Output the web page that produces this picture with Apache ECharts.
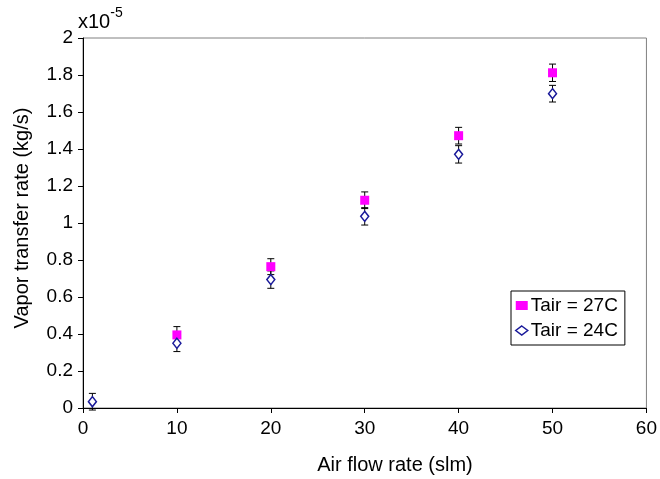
<!DOCTYPE html>
<html>
<head>
<meta charset="utf-8">
<script src="https://cdn.jsdelivr.net/npm/echarts@6/dist/echarts.min.js"></script>
<style>html,body{margin:0;padding:0;background:#fff}#c{width:660px;height:479px}</style>
</head>
<body>
<div id="c"></div>
<script>
// values in units of 1e-5 kg/s
var flow27 = [10, 20, 30, 40, 50];
var rate27 = [0.395, 0.764, 1.123, 1.472, 1.812];
var err27 = [0.045, 0.043, 0.045, 0.045, 0.047];
var flow24 = [1, 10, 20, 30, 40, 50];
var rate24 = [0.034, 0.35, 0.694, 1.036, 1.371, 1.699];
var err24 = [0.045, 0.045, 0.047, 0.047, 0.047, 0.045];
var xTicks = [0, 10, 20, 30, 40, 50, 60];
var yTicks = [0, 0.2, 0.4, 0.6, 0.8, 1, 1.2, 1.4, 1.6, 1.8, 2];

var FONT = 'Liberation Sans, Arial, sans-serif';
function pts(xs, ys) { return xs.map(function (x, i) { return [x, ys[i]]; }); }
function errs(xs, ys, es) { return xs.map(function (x, i) { return [x, ys[i] - es[i], ys[i] + es[i]]; }); }
function errRender(params, api) {
  var x = api.value(0);
  var lo = api.coord([x, api.value(1)]);
  var hi = api.coord([x, api.value(2)]);
  var w = 3.5;
  var st = { stroke: '#000', lineWidth: 1 };
  return {
    type: 'group',
    children: [
      { type: 'line', shape: { x1: lo[0], y1: lo[1], x2: hi[0], y2: hi[1] }, style: st },
      { type: 'line', shape: { x1: lo[0] - w, y1: lo[1], x2: lo[0] + w, y2: lo[1] }, style: st },
      { type: 'line', shape: { x1: hi[0] - w, y1: hi[1], x2: hi[0] + w, y2: hi[1] }, style: st }
    ]
  };
}

var chart = echarts.init(document.getElementById('c'), null, { renderer: 'canvas' });
chart.setOption({
  animation: false,
  backgroundColor: '#fff',
  textStyle: { fontFamily: FONT },
  grid: { left: 83, right: 11, top: 38, bottom: 71, show: true, borderColor: '#808080', borderWidth: 1, backgroundColor: 'transparent' },
  xAxis: {
    type: 'value', min: xTicks[0], max: xTicks[xTicks.length - 1], interval: 10,
    axisLine: { show: true, onZero: false, lineStyle: { color: '#000', width: 1 } },
    axisTick: { show: true, inside: false, length: 5, lineStyle: { color: '#000' } },
    axisLabel: { color: '#000', fontSize: 19, fontFamily: FONT, margin: 11 },
    splitLine: { show: false }
  },
  yAxis: {
    type: 'value', min: yTicks[0], max: yTicks[yTicks.length - 1], interval: 0.2,
    axisLine: { show: true, onZero: false, lineStyle: { color: '#000', width: 1 } },
    axisTick: { show: true, inside: false, length: 5, lineStyle: { color: '#000' } },
    axisLabel: { color: '#000', fontSize: 19, fontFamily: FONT, margin: 10,
      formatter: function (v) { return String(parseFloat(v.toFixed(1))); } },
    splitLine: { show: false }
  },
  legend: {
    orient: 'vertical', left: 511, top: 291,
    backgroundColor: '#fff', borderColor: '#000', borderWidth: 1,
    padding: [5, 7, 5, 4], itemGap: 6, itemWidth: 12, itemHeight: 9,
    textStyle: { color: '#000', fontSize: 19, fontFamily: FONT, padding: [0, 0, 0, -2] },
    data: [
      { name: 'Tair = 27C', icon: 'rect', itemStyle: { color: '#ff00ff' } },
      { name: 'Tair = 24C', icon: 'diamond', itemStyle: { color: '#fff', borderColor: '#1a1a9a', borderWidth: 1.5 } }
    ]
  },
  graphic: [
    { type: 'text', left: 78, top: 6, style: { text: '{b|x10}{s|-5}', rich: {
      b: { fontSize: 20, fontFamily: FONT, fill: '#000', verticalAlign: 'bottom', lineHeight: 26 },
      s: { fontSize: 14, fontFamily: FONT, fill: '#000', verticalAlign: 'top', padding: [0, 0, 8, 0], lineHeight: 26 } } } },
    { type: 'text', x: 395, y: 465, style: { text: 'Air flow rate (slm)', fontSize: 20, fontFamily: FONT, fill: '#000', align: 'center', verticalAlign: 'middle' } },
    { type: 'text', x: 22, y: 218, rotation: Math.PI / 2, style: { text: 'Vapor transfer rate (kg/s)', fontSize: 20, fontFamily: FONT, fill: '#000', align: 'center', verticalAlign: 'middle' } }
  ],
  series: [
    { name: 'err27', type: 'custom', renderItem: errRender, data: errs(flow27, rate27, err27), z: 3, silent: true },
    { name: 'err24', type: 'custom', renderItem: errRender, data: errs(flow24, rate24, err24), z: 3, silent: true },
    { name: 'Tair = 27C', type: 'scatter', symbol: 'rect', symbolSize: 9, data: pts(flow27, rate27),
      itemStyle: { color: '#ff00ff', opacity: 1 }, z: 4 },
    { name: 'Tair = 24C', type: 'scatter', symbol: 'diamond', symbolSize: [8, 10], data: pts(flow24, rate24),
      itemStyle: { color: '#fff', borderColor: '#1a1a9a', borderWidth: 1.5, opacity: 1 }, z: 5 }
  ]
});
</script>
</body>
</html>
